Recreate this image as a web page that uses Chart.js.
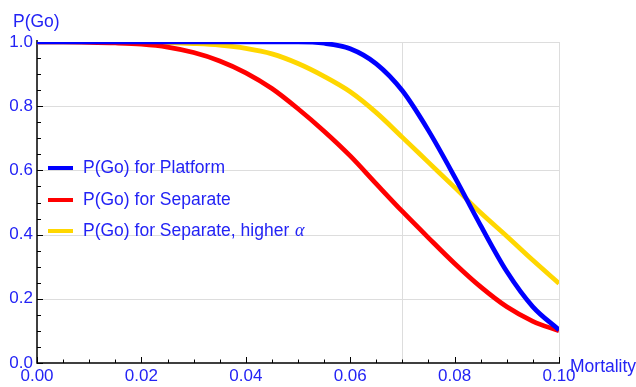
<!DOCTYPE html>
<html>
<head>
<meta charset="utf-8">
<script src="https://cdn.jsdelivr.net/npm/chart.js@4/dist/chart.umd.min.js"></script>
<style>
  html, body { margin: 0; padding: 0; background: #fff; }
  #wrap { width: 636px; height: 387px; position: relative; }
</style>
</head>
<body>
<div id="wrap"><canvas id="c" width="636" height="387"></canvas></div>
<script>
// ---- data ----
const mortality = [0, 0.005, 0.01, 0.015, 0.02, 0.025, 0.03, 0.035, 0.04, 0.045, 0.05,
                   0.055, 0.06, 0.065, 0.07, 0.075, 0.08, 0.085, 0.09, 0.095, 0.1];
const platform = [1, 1, 1, 1, 1, 1, 1, 1, 1, 1, 1,
                  0.996, 0.979, 0.932, 0.848, 0.724, 0.58, 0.428, 0.285, 0.175, 0.103];
const separate = [1, 1, 0.999, 0.997, 0.993, 0.984, 0.967, 0.941, 0.904, 0.855, 0.792,
                  0.722, 0.645, 0.558, 0.472, 0.39, 0.31, 0.237, 0.175, 0.13, 0.1];
const separateHigh = [1, 1, 1, 0.999, 0.999, 0.998, 0.995, 0.99, 0.98, 0.963, 0.933,
                      0.893, 0.845, 0.78, 0.703, 0.625, 0.547, 0.468, 0.395, 0.32, 0.248];
const seriesNames = ['P(Go) for Platform', 'P(Go) for Separate', 'P(Go) for Separate, higher '];
const xTicks = [0, 0.02, 0.04, 0.06, 0.08, 0.1];
const yTicks = [0, 0.2, 0.4, 0.6, 0.8, 1.0];
const xGrid = [0.07, 0.1];
const yGrid = [0.2, 0.4, 0.6, 0.8, 1.0];
const xMinorStep = 0.005;
const yMinorStep = 0.05;
const yAxisTitle = 'P(Go)';
const xAxisTitle = 'Mortality';

const TEXT = 'rgb(35,35,245)';
const FONT = '17.5px "Liberation Sans", Arial, sans-serif';
const colors = ['#0000ff', '#ff0000', '#ffd700'];

function pts(ys) { return mortality.map((x, i) => ({ x: x, y: ys[i] })); }

const decor = {
  id: 'decor',
  beforeDatasetsDraw(chart) {
    const ctx = chart.ctx, a = chart.chartArea, xs = chart.scales.x, ys = chart.scales.y;
    ctx.save();
    ctx.strokeStyle = 'rgb(221,221,221)';
    ctx.lineWidth = 1;
    yGrid.forEach(v => {
      const y = Math.round(ys.getPixelForValue(v)) + 0.5;
      ctx.beginPath(); ctx.moveTo(a.left, y); ctx.lineTo(a.right, y); ctx.stroke();
    });
    xGrid.forEach(v => {
      const x = Math.round(xs.getPixelForValue(v)) + 0.5;
      ctx.beginPath(); ctx.moveTo(x, a.top); ctx.lineTo(x, a.bottom); ctx.stroke();
    });
    // axes
    ctx.strokeStyle = '#000';
    ctx.lineWidth = 1.5;
    ctx.beginPath(); ctx.moveTo(a.left, a.top - 2); ctx.lineTo(a.left, a.bottom); ctx.lineTo(a.right + 1, a.bottom); ctx.stroke();
    // inward ticks
    ctx.lineWidth = 1;
    for (let i = 0; i <= 20; i++) {
      const v = i * xMinorStep;
      const major = i % 4 === 0;
      const x = Math.round(xs.getPixelForValue(v)) + 0.5;
      ctx.beginPath(); ctx.moveTo(x, a.bottom); ctx.lineTo(x, a.bottom - (major ? 6 : 3.5)); ctx.stroke();
    }
    for (let i = 0; i <= 20; i++) {
      const v = i * yMinorStep;
      const major = i % 4 === 0;
      const y = Math.round(ys.getPixelForValue(v)) + 0.5;
      ctx.beginPath(); ctx.moveTo(a.left, y); ctx.lineTo(a.left + (major ? 6 : 4), y); ctx.stroke();
    }
    ctx.restore();
  },
  afterDraw(chart) {
    const ctx = chart.ctx, a = chart.chartArea;
    ctx.save();
    ctx.font = FONT;
    ctx.fillStyle = TEXT;
    ctx.textBaseline = 'alphabetic';
    ctx.textAlign = 'left';
    ctx.fillText(yAxisTitle, 13, 27);
    ctx.fillText(xAxisTitle, a.right + 11, 372);
    // legend
    const rows = [168, 200, 231];
    chart.data.datasets.forEach((ds, i) => {
      const y = rows[i];
      ctx.strokeStyle = ds.borderColor;
      ctx.lineWidth = 4;
      ctx.beginPath(); ctx.moveTo(48, y); ctx.lineTo(73, y); ctx.stroke();
      ctx.fillStyle = TEXT;
      ctx.font = FONT;
      ctx.textBaseline = 'middle';
      ctx.fillText(ds.label, 83, y);
      if (i === 2) {
        const w = ctx.measureText(ds.label).width;
        ctx.font = 'italic 18px "Liberation Serif", "Times New Roman", serif';
        ctx.fillText('\u03B1', 83 + w + 1, y);
      }
    });
    ctx.restore();
  }
};

new Chart(document.getElementById('c'), {
  type: 'line',
  data: {
    datasets: [
      { label: seriesNames[0], data: pts(platform), borderColor: colors[0] },
      { label: seriesNames[1], data: pts(separate), borderColor: colors[1] },
      { label: seriesNames[2], data: pts(separateHigh), borderColor: colors[2] }
    ]
  },
  options: {
    responsive: false,
    animation: false,
    devicePixelRatio: 1,
    layout: { padding: { left: 0, right: 77, top: 42, bottom: 0 } },
    elements: {
      line: { borderWidth: 4.7, cubicInterpolationMode: 'monotone', fill: false },
      point: { radius: 0, hoverRadius: 0 }
    },
    plugins: { legend: { display: false }, tooltip: { enabled: false } },
    scales: {
      x: {
        type: 'linear', min: 0, max: 0.1,
        afterBuildTicks: s => { s.ticks = xTicks.map(v => ({ value: v })); },
        afterFit: s => { s.height = 24; },
        grid: { display: false, drawTicks: false },
        border: { display: false },
        ticks: { color: TEXT, font: { family: '"Liberation Sans", Arial, sans-serif', size: 17 }, padding: 3, maxRotation: 0,
                 callback: v => Number(v).toFixed(2) }
      },
      y: {
        type: 'linear', min: 0, max: 1,
        afterBuildTicks: s => { s.ticks = yTicks.map(v => ({ value: v })); },
        afterFit: s => { s.width = 37; },
        grid: { display: false, drawTicks: false },
        border: { display: false },
        ticks: { color: TEXT, font: { family: '"Liberation Sans", Arial, sans-serif', size: 17 }, padding: 4,
                 callback: v => Number(v).toFixed(1) }
      }
    }
  },
  plugins: [decor]
});
</script>
</body>
</html>
